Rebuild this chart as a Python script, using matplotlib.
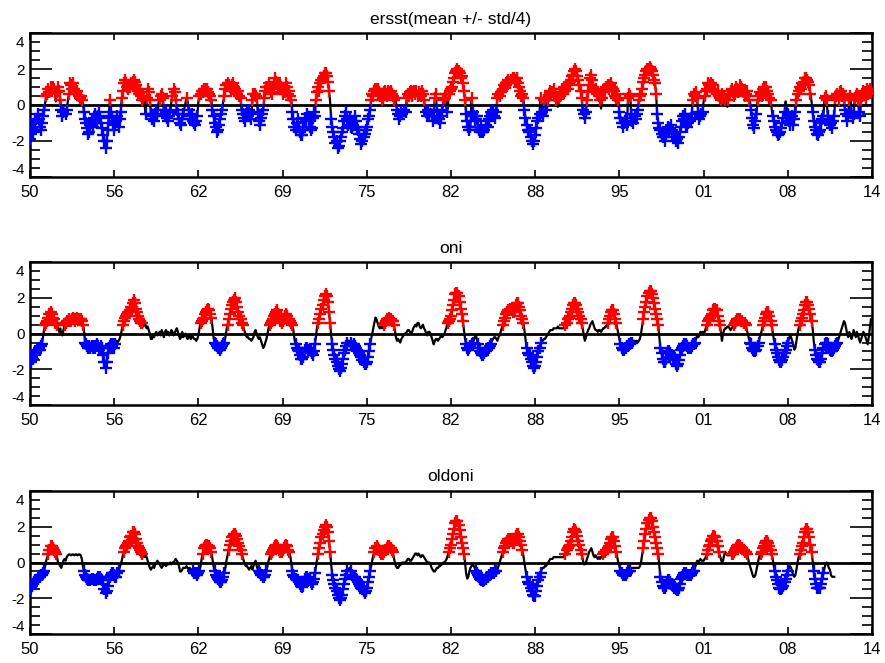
import numpy as np
import matplotlib
matplotlib.use("Agg")
import matplotlib.pyplot as plt
from matplotlib.ticker import MultipleLocator
from matplotlib.transforms import ScaledTranslation

plt.rcParams['font.family'] = ['Liberation Sans', 'DejaVu Sans']

START_YEAR = 1950

# Monthly Nino3.4 SST anomaly from ERSST, Jan 1950 - Dec 2014
ersst = [
    -1.9, -1.6, -1.3, -1.5, -1.2, -0.9, -0.8, -0.5, -0.8, -1.2, -1.4, -1.0,  # 1950
    -0.6, -0.3, 0.1, 0.5, 0.6, 0.9, 0.7, 1.0, 0.8, 1.0, 0.9, 0.7,  # 1951
    0.2, 0.7, 1.0, 0.8, 0.3, -0.3, -0.6, -0.4, -0.2, -0.5, -0.3, 0.2,  # 1952
    0.6, 1.2, 1.1, 0.9, 1.2, 0.9, 0.7, 0.6, 0.8, 0.5, 0.4, 0.5,  # 1953
    0.3, 0.1, -0.4, -0.8, -1.0, -1.3, -1.6, -1.5, -1.1, -0.9, -1.2, -0.7,  # 1954
    -0.5, -0.9, -1.0, -0.6, -0.4, -0.7, -1.0, -1.3, -1.7, -2.0, -2.4, -2.0,  # 1955
    -1.4, -0.6, 0.3, -0.4, -0.7, -1.0, -1.4, -1.1, -0.9, -0.6, -1.2, -0.8,  # 1956
    -0.4, 0.4, 0.8, 1.2, 1.4, 1.2, 1.0, 0.9, 1.1, 1.0, 1.2, 1.3,  # 1957
    1.4, 1.3, 1.1, 0.9, 0.8, 0.6, 0.7, 0.5, 0.3, 0.4, 0.1, -0.5,  # 1958
    0.4, 0.9, 0.7, 0.3, -0.5, -0.8, -0.6, -0.9, -0.5, -0.3, -0.6, 0.1,  # 1959
    0.3, 0.5, 0.6, 0.4, -0.3, -0.5, -0.4, -0.7, -0.9, -0.6, -0.4, 0.2,  # 1960
    0.5, 0.9, 0.7, 0.3, -0.3, -0.5, -0.8, -1.0, -1.1, -0.8, -0.5, -0.2,  # 1961
    0.1, 0.4, 0.2, -0.3, -0.6, -0.8, -0.5, -0.9, -1.0, -1.1, -0.9, -0.6,  # 1962
    0.2, 0.5, 0.6, 0.8, 0.7, 0.9, 0.9, 0.8, 0.9, 0.7, 0.6, 0.5,  # 1963
    0.3, -0.3, -0.6, -1.0, -1.2, -1.5, -1.4, -1.1, -0.8, -0.5, -0.3, 0.2,  # 1964
    0.5, 0.9, 1.1, 1.2, 1.1, 1.0, 0.8, 1.1, 1.2, 1.0, 0.9, 0.7,  # 1965
    0.6, 0.8, 0.5, 0.4, -0.3, -0.5, -0.7, -0.9, -0.5, -0.4, -0.6, -0.3,  # 1966
    -0.5, -0.8, 0.3, 0.6, 0.6, 0.5, 0.4, -0.4, -0.9, -1.1, -0.7, -0.5,  # 1967
    -0.3, 0.4, 0.8, 1.0, 1.0, 1.2, 0.9, 0.7, 0.6, 1.0, 1.1, 1.5,  # 1968
    1.3, 1.2, 1.0, 1.1, 1.1, 0.9, 0.6, 0.9, 0.7, 1.2, 1.0, 0.6,  # 1969
    0.8, 0.5, 0.3, -0.4, -0.8, -1.2, -1.4, -1.0, -0.8, -1.2, -1.5, -1.7,  # 1970
    -1.7, -1.4, -1.2, -0.7, -0.9, -0.5, -0.8, -1.2, -1.4, -1.3, -0.7, -0.4,  # 1971
    -0.6, 0.3, 0.7, 1.0, 0.8, 1.2, 1.4, 1.5, 1.6, 1.8, 1.8, 1.6,  # 1972
    1.3, 0.8, 0.2, -0.8, -1.2, -1.5, -1.8, -2.1, -2.0, -2.4, -2.3, -2.0,  # 1973
    -1.8, -1.5, -1.3, -0.9, -0.6, -0.4, -0.8, -1.1, -0.7, -1.2, -1.3, -1.1,  # 1974
    -0.9, -0.6, -0.9, -1.2, -1.4, -1.6, -1.9, -2.2, -2.0, -1.8, -1.6, -1.4,  # 1975
    -1.2, -0.8, -0.6, -0.3, 0.3, 0.6, 0.5, 0.8, 0.9, 0.9, 0.9, 0.7,  # 1976
    0.5, 0.6, 0.3, 0.4, 0.7, 0.8, 0.6, 0.5, 0.8, 0.7, 0.8, 0.6,  # 1977
    0.5, 0.3, 0.4, 0.2, -0.3, -0.5, -0.8, -0.6, -0.4, -0.5, -0.3, -0.2,  # 1978
    -0.4, 0.4, 0.6, 0.5, 0.7, 0.8, 0.5, 0.7, 0.8, 0.6, 0.8, 0.5,  # 1979
    0.7, 0.6, 0.5, 0.8, 0.6, 0.3, -0.2, -0.4, -0.6, -0.3, -0.5, -0.2,  # 1980
    -0.6, -0.9, -0.4, 0.4, 0.6, -0.3, -0.7, -0.8, -1.0, -0.6, -0.3, 0.3,  # 1981
    0.4, 0.6, -0.4, -0.2, 0.6, 0.8, 0.9, 1.0, 1.3, 1.5, 1.8, 1.9,  # 1982
    2.0, 1.9, 1.8, 1.5, 1.6, 1.2, 0.8, 0.3, -0.5, -0.9, -1.2, -1.4,  # 1983
    -1.2, 0.4, -0.4, -0.6, -0.9, -0.8, -0.6, -1.2, -1.4, -1.5, -1.3, -1.5,  # 1984
    -1.5, -1.4, -1.1, -0.9, -1.2, -0.8, -0.6, -0.4, -0.5, -0.3, -0.6, -0.7,  # 1985
    -0.4, 0.4, 0.6, 0.5, 0.7, 0.8, 0.9, 1.1, 1.0, 1.2, 1.3, 1.4,  # 1986
    1.3, 1.2, 1.4, 1.5, 1.5, 1.4, 1.3, 1.5, 1.2, 1.0, 0.8, 0.5,  # 1987
    0.6, 0.4, -0.3, -0.7, -1.1, -1.4, -1.5, -1.4, -1.8, -2.0, -2.2, -2.0,  # 1988
    -1.7, -1.3, -0.9, -0.7, -0.5, 0.4, -0.4, -0.6, 0.3, 0.4, -0.3, -0.2,  # 1989
    0.3, 0.5, 0.8, 0.6, 0.7, 0.9, 0.5, 0.3, 0.2, -0.1, 0.4, 0.5,  # 1990
    0.7, 0.9, 0.6, 1.0, 0.8, 1.1, 0.9, 1.2, 1.3, 1.4, 1.6, 1.7,  # 1991
    1.9, 2.0, 1.9, 1.6, 1.4, 1.1, 0.8, 0.4, -0.3, -0.5, -0.7, -0.4,  # 1992
    0.3, 0.7, 1.1, 1.5, 1.7, 1.4, 1.0, 0.8, 0.9, 0.6, 0.7, 0.5,  # 1993
    0.3, -0.2, 0.4, 0.7, 0.9, 0.8, 1.0, 1.1, 0.9, 1.1, 1.2, 1.0,  # 1994
    0.9, 0.8, 0.5, 0.4, 0.6, 0.3, -0.4, -0.7, -1.0, -1.2, -1.0, -0.9,  # 1995
    -0.7, -1.1, 0.4, 0.6, 0.5, -0.5, -0.9, -1.0, -0.6, -0.8, -0.5, -0.3,  # 1996
    0.3, 0.5, 0.6, 0.9, 1.3, 1.5, 1.7, 1.9, 2.0, 2.0, 2.1, 2.0,  # 1997
    1.9, 1.7, 1.4, 1.2, 0.6, -0.5, -1.0, -1.3, -1.4, -1.6, -1.8, -1.8,  # 1998
    -2.0, -1.6, -1.4, -1.2, -1.5, -1.3, -1.1, -1.4, -1.6, -1.8, -2.0, -1.9,  # 1999
    -2.1, -1.8, -1.5, -1.2, -0.9, -0.6, -0.8, -0.5, -1.1, -1.2, -1.0, -0.9,  # 2000
    -0.7, -0.5, 0.3, 0.6, 0.5, 0.7, 0.4, -0.4, -0.8, -0.6, -0.5, -0.4,  # 2001
    0.2, 0.5, 0.8, 0.9, 1.2, 1.1, 1.0, 1.2, 0.9, 1.1, 0.8, 0.7,  # 2002
    0.6, 0.8, 0.5, 0.4, 0.3, 0.6, 0.4, 0.5, 0.3, 0.2, -0.1, 0.3,  # 2003
    0.6, 0.8, 0.9, 0.7, 0.5, 0.6, 1.0, 0.9, 0.7, 0.8, 1.1, 1.0,  # 2004
    0.9, 0.7, 0.5, 0.6, 0.8, 0.5, 0.3, 0.2, -0.3, -0.7, -1.1, -1.3,  # 2005
    -0.9, -0.5, 0.3, 0.5, 0.7, 0.6, 0.5, 0.9, 1.0, 0.8, 1.0, 0.8,  # 2006
    0.6, 0.4, 0.3, -0.2, -0.6, -0.9, -1.2, -1.4, -1.5, -1.7, -1.6, -1.5,  # 2007
    -1.3, -1.0, -0.7, -0.4, 0.2, -0.2, -0.5, -0.9, -1.1, -0.8, -0.6, -1.1,  # 2008
    -0.8, -0.4, 0.3, 0.6, 0.8, 1.0, 0.9, 1.2, 1.1, 1.3, 1.5, 1.5,  # 2009
    1.4, 1.3, 1.1, 0.6, 0.2, -0.4, -0.9, -1.2, -1.4, -1.6, -1.7, -1.5,  # 2010
    -1.4, -1.0, -0.8, -0.6, 0.4, 0.5, 0.3, -0.6, -0.9, -1.1, -1.0, -1.3,  # 2011
    -0.9, -0.6, 0.4, 0.5, 0.6, 0.3, 0.7, 0.8, 0.5, 0.6, 0.4, -0.3,  # 2012
    -0.5, -0.9, -0.6, 0.3, 0.5, -0.4, -0.7, -0.5, 0.4, 0.5, 0.6, 0.3,  # 2013
    -0.4, -0.6, 0.3, 0.5, 0.8, 0.7, 0.4, 0.9, 0.6, 0.8, 0.9, 0.7,  # 2014
]

# Oceanic Nino Index, Jan 1950 - Dec 2014
oni = [
    -1.5, -1.6, -1.3, -1.4, -1.2, -1.0, -1.1, -0.9, -0.8, -0.9, -0.7, -0.6,  # 1950
    -0.2, 0.2, 0.5, 0.6, 0.7, 0.9, 1.1, 1.2, 1.1, 0.9, 0.8, 0.6,  # 1951
    0.6, 0.5, 0.3, 0.1, 0.3, 0.0, -0.1, 0.2, 0.5, 0.6, 0.7, 0.7,  # 1952
    0.8, 0.7, 0.7, 0.8, 0.9, 0.8, 0.7, 0.8, 0.9, 0.8, 0.8, 0.8,  # 1953
    0.7, 0.5, 0.2, -0.5, -0.6, -0.7, -0.8, -0.7, -0.8, -0.7, -0.8, -0.7,  # 1954
    -0.8, -0.7, -0.6, -0.7, -0.9, -0.8, -0.7, -0.8, -1.2, -1.6, -1.9, -1.6,  # 1955
    -1.1, -0.8, -0.7, -0.6, -0.7, -0.6, -0.8, -0.6, -0.4, -0.5, -0.4, -0.3,  # 1956
    -0.1, 0.2, 0.5, 0.7, 0.9, 1.0, 1.1, 1.2, 1.2, 1.3, 1.5, 1.7,  # 1957
    1.9, 1.7, 1.4, 1.2, 1.0, 0.8, 0.7, 0.6, 0.6, 0.4, 0.6, 0.5,  # 1958
    0.3, 0.4, 0.2, 0.0, -0.3, -0.3, -0.1, -0.2, 0.0, 0.1, -0.1, 0.0,  # 1959
    0.1, -0.1, 0.2, 0.0, -0.2, 0.1, 0.2, 0.0, 0.1, -0.1, 0.0, 0.2,  # 1960
    0.1, -0.1, 0.0, 0.2, 0.3, 0.1, -0.1, -0.3, -0.2, 0.1, -0.2, -0.1,  # 1961
    0.0, -0.2, -0.3, -0.1, -0.2, -0.3, -0.1, -0.2, -0.3, -0.3, -0.4, -0.3,  # 1962
    -0.1, 0.3, 0.6, 0.7, 0.8, 0.9, 1.1, 1.2, 1.3, 1.4, 1.3, 1.1,  # 1963
    0.9, 0.4, -0.2, -0.5, -0.6, -0.7, -0.8, -0.8, -0.9, -0.8, -0.7, -0.6,  # 1964
    -0.5, -0.2, 0.2, 0.5, 0.8, 1.1, 1.4, 1.6, 1.8, 1.9, 2.0, 1.8,  # 1965
    1.5, 1.2, 1.0, 0.8, 0.6, 0.5, 0.3, 0.1, -0.1, -0.2, -0.2, -0.3,  # 1966
    -0.3, -0.4, -0.3, -0.2, 0.1, 0.2, 0.0, -0.2, -0.3, -0.2, -0.4, -0.6,  # 1967
    -0.8, -0.7, -0.5, -0.3, 0.0, 0.3, 0.5, 0.6, 0.7, 0.8, 1.0, 1.1,  # 1968
    1.2, 1.3, 1.1, 0.9, 0.7, 0.6, 0.7, 0.8, 1.0, 1.1, 1.0, 0.8,  # 1969
    0.8, 0.7, 0.6, 0.5, 0.2, -0.3, -0.6, -0.8, -0.9, -1.0, -1.2, -1.4,  # 1970
    -1.4, -1.3, -1.1, -0.9, -0.8, -0.8, -0.9, -0.9, -1.0, -1.1, -1.2, -1.0,  # 1971
    -0.6, -0.1, 0.4, 0.6, 0.8, 1.1, 1.4, 1.6, 1.9, 2.1, 2.2, 2.1,  # 1972
    1.8, 1.2, 0.6, -0.1, -0.6, -0.9, -1.2, -1.4, -1.6, -1.8, -2.0, -2.1,  # 1973
    -1.9, -1.7, -1.4, -1.1, -0.9, -0.7, -0.5, -0.4, -0.4, -0.5, -0.7, -0.7,  # 1974
    -0.6, -0.7, -0.8, -0.9, -1.0, -1.1, -1.2, -1.3, -1.5, -1.6, -1.7, -1.7,  # 1975
    -1.6, -1.3, -1.0, -0.6, -0.3, 0.0, 0.3, 0.6, 0.9, 0.8, 0.6, 0.4,  # 1976
    0.3, 0.4, 0.3, 0.4, 0.5, 0.6, 0.7, 0.8, 0.8, 0.9, 0.8, 0.7,  # 1977
    0.7, 0.5, 0.2, -0.2, -0.4, -0.3, -0.4, -0.5, -0.3, -0.2, -0.1, 0.0,  # 1978
    0.0, 0.1, 0.2, 0.2, 0.1, 0.0, 0.1, 0.3, 0.4, 0.5, 0.4, 0.6,  # 1979
    0.6, 0.4, 0.3, 0.4, 0.5, 0.3, 0.2, 0.0, -0.1, 0.1, 0.1, 0.0,  # 1980
    -0.2, -0.4, -0.6, -0.4, -0.3, -0.3, -0.4, -0.3, -0.2, -0.1, -0.2, -0.1,  # 1981
    0.0, 0.2, 0.4, 0.6, 0.7, 0.8, 1.0, 1.3, 1.6, 1.9, 2.2, 2.3,  # 1982
    2.3, 2.1, 1.8, 1.4, 1.1, 0.7, 0.2, -0.3, -0.6, -0.8, -0.9, -0.8,  # 1983
    -0.7, -0.6, -0.5, -0.4, -0.2, -0.1, -0.3, -0.6, -0.8, -1.0, -1.1, -1.2,  # 1984
    -1.2, -1.1, -1.0, -0.9, -0.8, -0.8, -0.7, -0.6, -0.4, -0.3, -0.2, -0.2,  # 1985
    -0.3, -0.4, -0.2, -0.1, 0.1, 0.3, 0.5, 0.7, 0.9, 1.1, 1.2, 1.3,  # 1986
    1.3, 1.4, 1.3, 1.2, 1.2, 1.4, 1.6, 1.7, 1.7, 1.5, 1.3, 1.0,  # 1987
    0.8, 0.6, 0.2, -0.3, -0.8, -1.1, -1.2, -1.2, -1.4, -1.6, -1.8, -1.9,  # 1988
    -1.8, -1.6, -1.3, -1.0, -0.8, -0.5, -0.4, -0.4, -0.3, -0.3, -0.2, -0.1,  # 1989
    0.0, 0.1, 0.2, 0.2, 0.2, 0.3, 0.3, 0.3, 0.3, 0.4, 0.3, 0.3,  # 1990
    0.3, 0.3, 0.3, 0.4, 0.5, 0.6, 0.8, 0.9, 1.0, 1.2, 1.4, 1.6,  # 1991
    1.7, 1.7, 1.6, 1.4, 1.2, 1.0, 0.8, 0.6, 0.3, -0.1, -0.4, -0.2,  # 1992
    0.0, 0.2, 0.3, 0.5, 0.6, 0.7, 0.5, 0.3, 0.2, 0.2, 0.1, 0.2,  # 1993
    0.2, 0.1, 0.2, 0.3, 0.3, 0.4, 0.4, 0.6, 0.8, 1.0, 1.2, 1.3,  # 1994
    1.3, 1.1, 0.8, 0.6, 0.3, 0.0, -0.3, -0.6, -0.8, -0.9, -0.9, -0.8,  # 1995
    -0.8, -0.7, -0.7, -0.6, -0.6, -0.5, -0.5, -0.4, -0.4, -0.5, -0.4, -0.5,  # 1996
    -0.4, -0.3, 0.0, 0.4, 0.8, 1.2, 1.5, 1.8, 2.1, 2.3, 2.4, 2.4,  # 1997
    2.2, 2.0, 1.7, 1.4, 1.1, 0.8, 0.5, -0.2, -0.8, -1.1, -1.4, -1.6,  # 1998
    -1.6, -1.4, -1.1, -1.0, -1.0, -1.1, -1.2, -1.2, -1.3, -1.5, -1.7, -1.8,  # 1999
    -1.7, -1.5, -1.2, -0.9, -0.8, -0.7, -0.6, -0.6, -0.6, -0.7, -0.8, -0.8,  # 2000
    -0.8, -0.7, -0.6, -0.6, -0.5, -0.3, -0.1, -0.2, -0.1, 0.1, 0.0, 0.1,  # 2001
    0.0, 0.1, 0.3, 0.5, 0.7, 0.8, 0.9, 1.0, 1.1, 1.3, 1.4, 1.4,  # 2002
    1.3, 1.0, 0.7, 0.5, 0.1, -0.4, 0.0, 0.2, 0.3, 0.3, 0.4, 0.4,  # 2003
    0.3, 0.2, 0.3, 0.4, 0.5, 0.6, 0.7, 0.8, 0.8, 0.8, 0.8, 0.7,  # 2004
    0.7, 0.6, 0.6, 0.5, 0.2, 0.0, -0.3, -0.5, -0.6, -0.8, -0.9, -1.0,  # 2005
    -1.0, -0.9, -0.7, -0.5, -0.2, 0.0, 0.2, 0.5, 0.7, 0.9, 1.1, 1.2,  # 2006
    1.2, 1.0, 0.7, 0.5, 0.1, -0.3, -0.6, -0.9, -1.1, -1.3, -1.5, -1.6,  # 2007
    -1.6, -1.5, -1.3, -1.1, -0.9, -0.7, -0.5, -0.3, -0.1, -0.2, -0.4, -0.6,  # 2008
    -0.9, -0.8, -0.4, 0.0, 0.3, 0.5, 0.7, 0.9, 1.1, 1.3, 1.6, 1.8,  # 2009
    1.8, 1.6, 1.4, 1.1, 0.7, 0.3, -0.4, -0.9, -1.2, -1.4, -1.5, -1.6,  # 2010
    -1.6, -1.4, -1.1, -0.8, -0.6, -0.5, -0.5, -0.6, -0.8, -0.9, -1.0, -1.0,  # 2011
    -0.9, -0.8, -0.7, -0.6, -0.5, -0.3, -0.1, 0.1, 0.3, 0.5, 0.7, 0.6,  # 2012
    0.3, 0.0, -0.2, 0.1, -0.1, -0.3, -0.1, 0.2, 0.0, -0.2, 0.1, -0.1,  # 2013
    -0.3, -0.5, -0.3, -0.1, 0.1, 0.0, -0.2, -0.4, -0.6, -0.2, 0.3, 0.8,  # 2014
]

# Older ONI release, Jan 1950 - Feb 2012
oldoni = [
    -1.5, -1.4, -1.3, -1.2, -1.1, -1.0, -1.0, -0.9, -0.8, -0.8, -0.7, -0.7,  # 1950
    -0.6, -0.5, -0.2, 0.1, 0.3, 0.5, 0.7, 0.9, 0.9, 0.8, 0.7, 0.6,  # 1951
    0.5, 0.3, 0.0, -0.1, -0.2, -0.3, -0.1, 0.1, 0.2, 0.1, 0.3, 0.4,  # 1952
    0.45, 0.45, 0.4, 0.45, 0.45, 0.4, 0.45, 0.45, 0.4, 0.45, 0.45, 0.4,  # 1953
    0.2, -0.2, -0.5, -0.7, -0.8, -0.9, -1.0, -1.0, -1.0, -0.9, -0.9, -1.0,  # 1954
    -1.0, -1.0, -0.9, -0.8, -0.8, -0.8, -0.9, -1.0, -1.2, -1.5, -1.7, -1.6,  # 1955
    -1.3, -1.0, -0.8, -0.7, -0.6, -0.6, -0.7, -0.8, -0.8, -0.6, -0.5, -0.3,  # 1956
    -0.1, 0.1, 0.4, 0.6, 0.8, 0.9, 1.0, 1.1, 1.2, 1.4, 1.5, 1.7,  # 1957
    1.7, 1.6, 1.3, 1.1, 0.9, 0.8, 0.7, 0.6, 0.5, 0.4, 0.3, 0.4,  # 1958
    0.3, 0.1, -0.1, -0.3, -0.4, -0.3, -0.2, -0.3, -0.1, 0.0, 0.1, 0.0,  # 1959
    -0.1, -0.2, -0.3, -0.2, -0.1, -0.1, -0.2, -0.1, -0.1, -0.1, 0.0, -0.1,  # 1960
    0.0, 0.0, 0.1, 0.2, 0.1, 0.0, -0.2, -0.5, -0.5, -0.4, -0.3, -0.3,  # 1961
    -0.3, -0.2, -0.3, -0.4, -0.3, -0.4, -0.4, -0.5, -0.6, -0.6, -0.6, -0.7,  # 1962
    -0.6, -0.5, -0.2, 0.2, 0.5, 0.8, 0.9, 1.0, 1.0, 0.9, 0.9, 0.8,  # 1963
    0.6, 0.2, -0.2, -0.5, -0.7, -0.8, -0.9, -1.0, -1.1, -1.1, -1.0, -0.8,  # 1964
    -0.6, -0.3, 0.1, 0.4, 0.7, 1.0, 1.2, 1.4, 1.5, 1.6, 1.6, 1.5,  # 1965
    1.3, 1.1, 0.9, 0.7, 0.5, 0.3, 0.1, -0.1, -0.2, -0.2, -0.3, -0.4,  # 1966
    -0.3, -0.2, -0.4, -0.2, 0.0, 0.1, -0.2, -0.4, -0.5, -0.6, -0.7, -0.7,  # 1967
    -0.8, -0.8, -0.7, -0.5, -0.2, 0.1, 0.3, 0.5, 0.6, 0.7, 0.8, 0.9,  # 1968
    1.0, 0.9, 0.8, 0.7, 0.6, 0.6, 0.7, 0.8, 0.9, 1.0, 0.9, 0.7,  # 1969
    0.6, 0.4, 0.0, -0.5, -0.7, -0.8, -0.9, -1.0, -1.0, -1.1, -1.2, -1.3,  # 1970
    -1.35, -1.3, -1.1, -0.9, -0.8, -0.8, -0.9, -1.0, -1.1, -1.2, -1.1, -0.9,  # 1971
    -0.6, -0.2, 0.2, 0.5, 0.8, 1.1, 1.4, 1.6, 1.8, 2.0, 2.1, 2.0,  # 1972
    1.7, 1.2, 0.6, -0.1, -0.7, -1.0, -1.2, -1.4, -1.6, -1.8, -2.0, -2.1,  # 1973
    -2.0, -1.8, -1.5, -1.2, -0.9, -0.7, -0.5, -0.4, -0.3, -0.5, -0.7, -0.8,  # 1974
    -0.8, -0.8, -0.9, -1.0, -1.1, -1.2, -1.3, -1.4, -1.5, -1.6, -1.7, -1.6,  # 1975
    -1.4, -1.1, -0.8, -0.5, -0.2, 0.1, 0.4, 0.6, 0.8, 0.9, 0.8, 0.7,  # 1976
    0.6, 0.5, 0.5, 0.5, 0.6, 0.7, 0.7, 0.8, 0.9, 0.9, 0.8, 0.7,  # 1977
    0.6, 0.3, 0.0, -0.2, -0.3, -0.3, -0.2, -0.1, -0.1, 0.0, 0.0, 0.0,  # 1978
    0.0, 0.1, 0.2, 0.2, 0.1, 0.1, 0.2, 0.3, 0.4, 0.5, 0.5, 0.4,  # 1979
    0.5, 0.4, 0.3, 0.4, 0.4, 0.3, 0.2, 0.1, 0.0, 0.0, 0.0, -0.1,  # 1980
    -0.3, -0.4, -0.5, -0.5, -0.4, -0.3, -0.3, -0.2, -0.2, -0.1, -0.1, 0.0,  # 1981
    0.0, 0.1, 0.2, 0.4, 0.6, 0.8, 1.0, 1.3, 1.6, 1.9, 2.2, 2.3,  # 1982
    2.3, 2.1, 1.8, 1.4, 1.1, 0.8, 0.5, 0.0, -0.6, -0.9, -0.8, -0.5,  # 1983
    -0.3, -0.2, -0.1, -0.2, -0.3, -0.5, -0.6, -0.7, -0.8, -0.9, -1.0, -1.0,  # 1984
    -1.05, -1.0, -0.9, -0.8, -0.8, -0.7, -0.7, -0.6, -0.6, -0.6, -0.6, -0.5,  # 1985
    -0.5, -0.4, -0.2, 0.0, 0.2, 0.4, 0.6, 0.8, 0.9, 1.1, 1.2, 1.3,  # 1986
    1.3, 1.3, 1.2, 1.1, 1.1, 1.3, 1.5, 1.6, 1.6, 1.4, 1.2, 1.0,  # 1987
    0.7, 0.4, 0.0, -0.4, -0.8, -1.1, -1.2, -1.2, -1.4, -1.6, -1.8, -1.9,  # 1988
    -1.9, -1.6, -1.3, -1.0, -0.8, -0.6, -0.4, -0.3, -0.3, -0.2, -0.2, -0.1,  # 1989
    0.0, 0.1, 0.2, 0.2, 0.2, 0.3, 0.3, 0.3, 0.3, 0.3, 0.3, 0.3,  # 1990
    0.3, 0.3, 0.3, 0.4, 0.5, 0.7, 0.8, 0.9, 1.0, 1.2, 1.4, 1.7,  # 1991
    1.9, 1.8, 1.7, 1.5, 1.2, 1.0, 0.7, 0.5, 0.2, -0.1, -0.1, 0.0,  # 1992
    0.2, 0.4, 0.6, 0.7, 0.8, 0.6, 0.4, 0.3, 0.4, 0.3, 0.2, 0.3,  # 1993
    0.2, 0.3, 0.4, 0.5, 0.6, 0.6, 0.7, 0.8, 0.9, 1.1, 1.3, 1.4,  # 1994
    1.4, 1.2, 0.9, 0.6, 0.3, 0.0, -0.2, -0.5, -0.6, -0.7, -0.7, -0.7,  # 1995
    -0.7, -0.6, -0.5, -0.5, -0.5, -0.3, -0.3, -0.3, -0.3, -0.3, -0.3, -0.3,  # 1996
    -0.3, -0.2, 0.0, 0.4, 0.8, 1.2, 1.6, 1.9, 2.2, 2.4, 2.5, 2.5,  # 1997
    2.3, 2.0, 1.7, 1.4, 1.1, 0.8, 0.5, -0.2, -0.8, -1.1, -1.3, -1.4,  # 1998
    -1.4, -1.3, -1.1, -1.0, -1.0, -1.1, -1.2, -1.2, -1.3, -1.4, -1.5, -1.55,  # 1999
    -1.55, -1.4, -1.2, -0.9, -0.8, -0.7, -0.6, -0.6, -0.6, -0.7, -0.7, -0.7,  # 2000
    -0.7, -0.6, -0.5, -0.5, -0.3, -0.1, 0.1, 0.0, 0.1, 0.2, 0.1, 0.1,  # 2001
    0.1, 0.2, 0.3, 0.5, 0.7, 0.9, 1.0, 1.2, 1.3, 1.5, 1.5, 1.4,  # 2002
    1.2, 0.9, 0.6, 0.4, 0.2, 0.0, 0.1, 0.4, 0.6, 0.5, 0.4, 0.4,  # 2003
    0.4, 0.4, 0.5, 0.5, 0.6, 0.7, 0.8, 0.9, 1.0, 1.0, 0.9, 0.8,  # 2004
    0.8, 0.7, 0.6, 0.6, 0.5, 0.3, 0.0, -0.2, -0.4, -0.6, -0.8, -0.8,  # 2005
    -0.7, -0.4, -0.1, 0.2, 0.4, 0.5, 0.6, 0.8, 0.9, 1.1, 1.2, 1.2,  # 2006
    1.1, 0.9, 0.7, 0.5, 0.2, -0.2, -0.5, -0.8, -1.0, -1.2, -1.4, -1.5,  # 2007
    -1.5, -1.4, -1.3, -1.1, -0.9, -0.7, -0.5, -0.3, -0.2, -0.3, -0.5, -0.7,  # 2008
    -0.8, -0.7, -0.4, 0.0, 0.3, 0.5, 0.7, 0.9, 1.1, 1.4, 1.7, 1.9,  # 2009
    1.9, 1.7, 1.4, 1.0, 0.6, 0.1, -0.5, -0.9, -1.2, -1.4, -1.45, -1.45,  # 2010
    -1.4, -1.2, -0.9, -0.6, -0.3, -0.1, 0.0, -0.1, -0.3, -0.4, -0.7, -0.8,  # 2011
    -0.8, -0.8,  # 2012
]

titles = ["ersst(mean +/- std/4)", "oni", "oldoni"]

tick_years = [1950 + 6.5 * k for k in range(11)]
tick_labels = ["50", "56", "62", "69", "75", "82", "88", "95", "01", "08", "14"]
ytick_values = [-4, -2, 0, 2, 4]
ytick_labels = ["-4", "-2", "0", "2", "4"]


def event_mask(above, min_len):
    """Keep only runs of consecutive True values at least min_len long."""
    out = np.zeros_like(above)
    i, n = 0, len(above)
    while i < n:
        if above[i]:
            j = i
            while j < n and above[j]:
                j += 1
            if j - i >= min_len:
                out[i:j] = True
            i = j
        else:
            i += 1
    return out


series = []
v = np.array(ersst)
hi = v.mean() + v.std() / 4
lo = v.mean() - v.std() / 4
series.append((v, v > hi, v < lo))
for vals in (oni, oldoni):
    v = np.array(vals)
    series.append((v, event_mask(v >= 0.5, 5), event_mask(v <= -0.5, 5)))

fig = plt.figure(figsize=(8.85, 6.63), dpi=100)
rects = [
    [30 / 885, 1 - 176.7 / 663, 842 / 885, 143.4 / 663],
    [30 / 885, 1 - 405 / 663, 842 / 885, 142.7 / 663],
    [30 / 885, 1 - 634 / 663, 842 / 885, 143.0 / 663],
]

for rect, title, (v, warm, cold) in zip(rects, titles, series):
    ax = fig.add_axes(rect)
    t = START_YEAR + np.arange(len(v)) / 12.0
    ax.axhline(0, color="black", lw=2, zorder=1)
    ax.plot(t, v, color="black", lw=1.6, zorder=2)
    ax.plot(t[warm], v[warm], "+", color="#ff0000", ms=8, mew=1.7, zorder=3)
    ax.plot(t[cold], v[cold], "+", color="#0000ff", ms=8, mew=1.7, zorder=3)

    ax.set_xlim(1950, 2015)
    ax.set_ylim(-4, 4)
    ax.set_xticks(tick_years)
    ax.set_xticklabels(tick_labels, fontsize=12)
    ax.set_yticks(ytick_values)
    ax.set_yticklabels(ytick_labels, fontsize=11)
    ax.yaxis.set_minor_locator(MultipleLocator(0.5))
    ax.tick_params(axis="x", which="major", direction="in", length=5, width=1.2,
                   top=True, pad=6)
    ax.tick_params(axis="y", which="major", direction="in", length=16, width=1.2,
                   right=True, pad=4)
    ax.tick_params(axis="y", which="minor", direction="in", length=7, width=1.2,
                   right=True)
    # pull the end labels slightly inside the axis range
    for tick, val in zip(ax.yaxis.get_major_ticks(), ytick_values):
        if abs(val) == 4:
            dy = -6 if val > 0 else 6
            lab = tick.label1
            lab.set_transform(lab.get_transform() +
                              ScaledTranslation(0, dy / 72, fig.dpi_scale_trans))
    for s in ax.spines.values():
        s.set_linewidth(1.8)
    ax.set_title(title, fontsize=12.5, pad=7)

fig.savefig("out.png", dpi=100)
